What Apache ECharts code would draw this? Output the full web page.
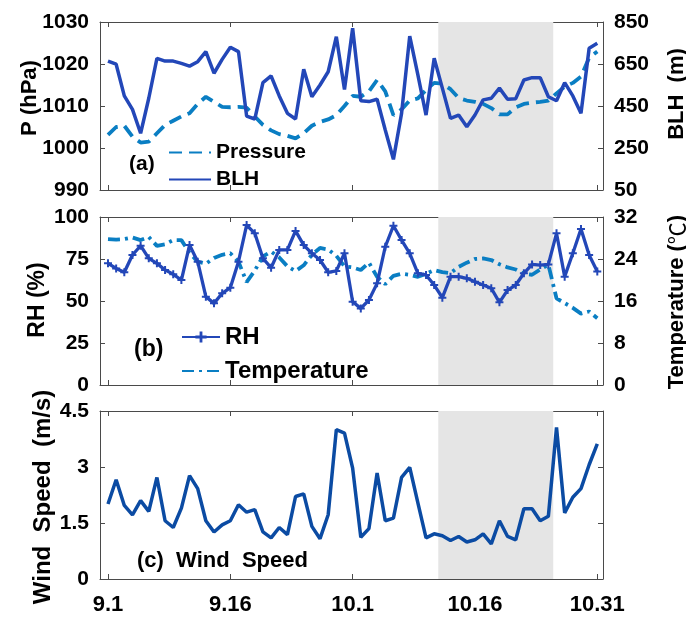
<!DOCTYPE html>
<html>
<head>
<meta charset="utf-8">
<script src="https://cdn.jsdelivr.net/npm/echarts@6/dist/echarts.min.js"></script>
<style>html,body{margin:0;padding:0;background:#fff;}#c{width:686px;height:619px;}</style>
</head>
<body>
<div id="c"></div>
<script>
// ---- data ----
const dates = [];
for (let d = 1; d <= 30; d++) dates.push('9.' + d);
for (let d = 1; d <= 31; d++) dates.push('10.' + d);
const tickLabels = ['9.1', '9.16', '10.1', '10.16', '10.31'];
const shadedRange = [40.5, 54.6]; // in day-index units

const pressure = [1003.1, 1005.0, 1005.3, 1002.7, 1001.3, 1001.5, 1003.5, 1005.5, 1006.5, 1007.5,
  1008.3, 1010.5, 1012.2, 1011.0, 1009.8, 1009.7, 1009.8, 1009.6, 1007.5, 1005.5,
  1004.2, 1003.3, 1002.9, 1002.3, 1003.5, 1005.3, 1006.2, 1006.8, 1007.8, 1010.0,
  1012.4, 1012.2, 1013.5, 1016.2, 1013.5, 1007.8, 1009.2, 1011.3, 1011.8, 1013.8,
  1015.5, 1015.3, 1014.0, 1011.9, 1011.3, 1011.0, 1010.5, 1009.5, 1008.0, 1008.0,
  1009.7, 1010.5, 1010.8, 1011.0, 1011.3, 1013.0, 1014.6, 1015.5, 1017.0, 1021.5, 1023.0];
const blh = [664, 649, 498, 434, 320, 487, 677, 664, 664, 653,
  640, 661, 709, 606, 672, 730, 709, 402, 388, 561,
  593, 498, 415, 388, 625, 494, 550, 613, 780, 529,
  820, 475, 471, 482, 336, 196, 415, 783, 598, 407,
  677, 535, 391, 407, 351, 407, 479, 487, 535, 482,
  485, 574, 585, 585, 494, 475, 561, 498, 415, 725, 749];
const rh = [72.4, 69.4, 67.1, 77.4, 82.9, 75.4, 72.4, 68.5, 65.9, 62.5,
  83.3, 73.4, 52.6, 48.6, 54.6, 57.9, 73.4, 95.2, 90.3, 75.4,
  69.8, 80.4, 80.4, 91.7, 83.3, 78.4, 74.4, 67.1, 67.9, 78.4,
  49.6, 45.6, 50.6, 60.5, 82.3, 94.8, 86.3, 78.4, 66.5, 65.5,
  59.5, 52.0, 64.5, 64.5, 63.5, 61.5, 59.5, 57.6, 49.2, 56.5,
  59.5, 66.5, 71.8, 71.4, 71.8, 90.3, 64.5, 78.4, 92.9, 77.4, 67.5];
const temperature = [27.8, 27.7, 27.8, 28.1, 27.6, 28.2, 26.5, 26.8, 27.6, 27.6,
  25.2, 23.5, 23.1, 24.2, 24.8, 25.1, 23.5, 19.6, 21.8, 24.5,
  25.4, 24.3, 22.6, 21.7, 22.8, 24.8, 26.1, 25.8, 24.6, 22.6,
  22.4, 21.9, 23.3, 20.6, 19.2, 20.8, 21.2, 21.0, 20.6, 21.2,
  21.9, 21.5, 21.3, 22.5, 23.3, 24.0, 24.1, 23.8, 23.0, 22.4,
  22.0, 21.2, 21.0, 22.0, 22.9, 16.5, 15.6, 14.7, 13.6, 14.0, 12.7];
const windSpeed = [2.01, 2.66, 1.97, 1.72, 2.10, 1.81, 2.72, 1.56, 1.38, 1.90,
  2.77, 2.42, 1.56, 1.26, 1.45, 1.56, 1.99, 1.79, 1.86, 1.26,
  1.10, 1.38, 1.19, 2.21, 2.28, 1.41, 1.08, 1.72, 4.00, 3.91,
  2.97, 1.12, 1.35, 2.84, 1.56, 1.63, 2.72, 2.99, 2.04, 1.10,
  1.21, 1.16, 1.03, 1.14, 0.99, 1.05, 1.21, 0.94, 1.56, 1.14,
  1.05, 1.88, 1.88, 1.56, 1.68, 4.06, 1.77, 2.19, 2.42, 3.06, 3.62];

// ---- styling ----
const FONT = 'Liberation Sans, Arial, sans-serif';
const frame = '#4a4a4a';
const cBLH = '#2347b8';
const cP = '#0a7ec3';
const cWS = '#0b4ba3';
const shadeColor = '#e5e5e5';
const labelFont = { fontFamily: FONT, fontWeight: 'bold', fontSize: 21, color: '#000' };
const tickIdx = tickLabels.map(l => dates.indexOf(l));
const toXY = arr => arr.map((v, i) => [i, v]);

const grids = [
  { left: 100, width: 503, top: 22, height: 168 },
  { left: 100, width: 503, top: 217, height: 168 },
  { left: 100, width: 503, top: 411, height: 168 }
];

function xAx(g, position, showLabels) {
  return {
    type: 'value', gridIndex: g, position: position, min: -0.98, max: 60.7,
    axisLine: { show: true, onZero: false, lineStyle: { color: frame, width: 1 } },
    axisTick: { show: true, inside: true, length: 5, customValues: tickIdx, lineStyle: { color: frame } },
    axisLabel: Object.assign({ show: showLabels, customValues: tickIdx, margin: 15,
      formatter: v => dates[Math.round(v)] }, labelFont, { fontSize: 22 }),
    splitLine: { show: false }
  };
}
function yAx(g, position, min, max, interval, showLabels) {
  return {
    type: 'value', gridIndex: g, position: position, min: min, max: max, interval: interval,
    axisLine: { show: true, onZero: false, lineStyle: { color: frame, width: 1 } },
    axisTick: { show: true, inside: true, length: 5, lineStyle: { color: frame } },
    axisLabel: Object.assign({ show: showLabels, margin: 11, formatter: v => String(v) }, labelFont),
    splitLine: { show: false }
  };
}
const shadeArea = {
  silent: true,
  itemStyle: { color: shadeColor },
  data: [[{ xAxis: shadedRange[0] }, { xAxis: shadedRange[1] }]]
};
function vtext(x, y, text, size, rich) {
  const st = Object.assign({ text: text, align: 'center', verticalAlign: 'middle' }, labelFont,
    { fill: '#000', fontSize: size || 22 });
  if (rich) st.rich = rich;
  return { type: 'text', x: x, y: y, rotation: Math.PI / 2, style: st };
}
function htext(x, y, text, size) {
  return { type: 'text', x: x, y: y,
    style: Object.assign({ text: text, align: 'left', verticalAlign: 'middle' }, labelFont,
      { fill: '#000', fontSize: size || 21 }) };
}

const option = {
  animation: false,
  backgroundColor: '#fff',
  grid: grids,
  xAxis: [xAx(0, 'bottom', false), xAx(0, 'top', false),
          xAx(1, 'bottom', false), xAx(1, 'top', false),
          xAx(2, 'bottom', true), xAx(2, 'top', false)],
  yAxis: [yAx(0, 'left', 990, 1030, 10, true), yAx(0, 'right', 50, 850, 200, true),
          yAx(1, 'left', 0, 100, 25, true), yAx(1, 'right', 0, 32, 8, true),
          yAx(2, 'left', 0, 4.5, 1.5, true), yAx(2, 'right', 0, 4.5, 1.5, false)],
  legend: [
    { data: [{ name: 'Pressure', itemStyle: { opacity: 0 } }, { name: 'BLH', itemStyle: { opacity: 0 } }],
      orient: 'vertical', left: 163, top: 137, itemWidth: 42, itemHeight: 14,
      itemGap: 6, textStyle: labelFont, selectedMode: false },
    { data: [{ name: 'RH' }, { name: 'Temperature', itemStyle: { opacity: 0 } }],
      orient: 'vertical', left: 176, top: 320, itemWidth: 38, itemHeight: 14,
      itemGap: 10, textStyle: Object.assign({}, labelFont, { fontSize: 24 }), selectedMode: false }
  ],
  graphic: [
    vtext(30, 98, 'P (hPa)', 22),
    vtext(38, 300, 'RH (%)', 23),
    vtext(43, 497, 'Wind  Speed  (m/s)', 24),
    vtext(677, 94, 'BLH  (m)', 22),
    vtext(677, 302, 'Temperature ({c|\u2103})', 22,
      { c: { fontFamily: 'Noto Sans CJK SC', fontWeight: 'normal', fontSize: 22, fill: '#000' } }),
    htext(129, 164, '(a)'),
    htext(134, 350, '(b)', 23),
    htext(137, 561, '(c)  Wind  Speed', 22)
  ],
  series: [
    { name: 'Pressure', type: 'line', xAxisIndex: 0, yAxisIndex: 0, data: toXY(pressure),
      symbol: 'none', lineStyle: { color: cP, width: 3.8, type: [13, 7] }, itemStyle: { color: cP },
      markArea: shadeArea, z: 2 },
    { name: 'BLH', type: 'line', xAxisIndex: 0, yAxisIndex: 1, data: toXY(blh),
      symbol: 'none', lineStyle: { color: cBLH, width: 3.5 }, itemStyle: { color: cBLH }, z: 3 },
    { name: 'RH', type: 'line', xAxisIndex: 2, yAxisIndex: 2, data: toXY(rh),
      symbol: 'path://M3,0H5V3H8V5H5V8H3V5H0V3H3Z', symbolSize: 8,
      lineStyle: { color: cBLH, width: 3.3 }, itemStyle: { color: cBLH }, markArea: shadeArea, z: 3 },
    { name: 'Temperature', type: 'line', xAxisIndex: 2, yAxisIndex: 3, data: toXY(temperature),
      symbol: 'none', lineStyle: { color: cP, width: 3.8, type: [12, 5, 3, 5] }, itemStyle: { color: cP }, z: 2 },
    { name: 'Wind Speed', type: 'line', xAxisIndex: 4, yAxisIndex: 4, data: toXY(windSpeed),
      symbol: 'none', lineStyle: { color: cWS, width: 3.5 }, itemStyle: { color: cWS }, markArea: shadeArea, z: 3 }
  ]
};
const chart = echarts.init(document.getElementById('c'), null, { renderer: 'canvas' });
chart.setOption(option);
</script>
</body>
</html>
